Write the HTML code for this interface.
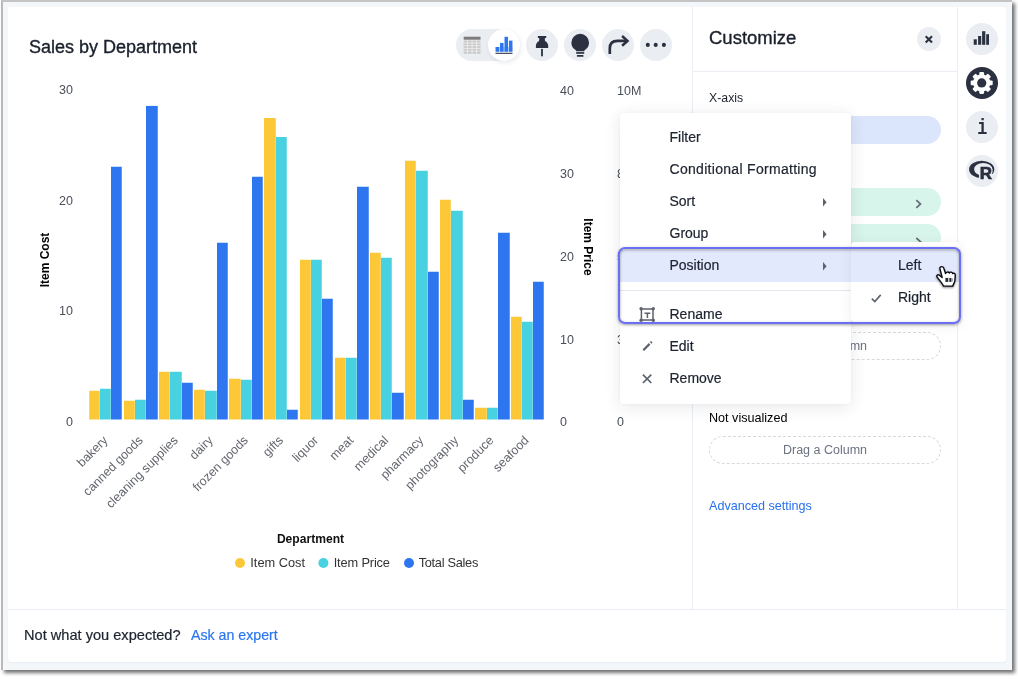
<!DOCTYPE html>
<html lang="en">
<head>
<meta charset="utf-8">
<title>Sales by Department</title>
<style>
*{box-sizing:border-box;margin:0;padding:0}
html,body{width:1018px;height:679px;overflow:hidden;background:#fff}
body{font-family:"Liberation Sans",Arial,sans-serif;color:#1d232f;position:relative}
#root{position:absolute;left:0;top:0;width:1018px;height:679px;will-change:transform}
.abs{position:absolute}
.t{position:absolute;white-space:nowrap;line-height:1}
#card{left:1px;top:0;width:1011px;height:670px;background:#f4f7fa;border-left:2px solid #b9b9b9;border-top:2px solid #c4c4c4;box-shadow:3px 3px 3.500px 0 rgba(0,0,0,.55)}
#main{left:8px;top:7px;width:998px;height:602px;background:#fff;border-radius:2px 2px 0 0}
#foot{left:8px;top:610px;width:998px;height:52px;background:#fff;border-radius:0 0 3px 3px;box-shadow:0 1px 2px rgba(60,80,120,.07)}
.vline{background:#ebeef5;width:1px}
.hline{background:#ebeef5;height:1px}
.circ{position:absolute;border-radius:50%;background:#eaedf2}
.pill{position:absolute;border-radius:14px;height:28px}
.dash{position:absolute;border:1px dashed #d6d9df;border-radius:14px;height:28px;color:#6b7280;font-size:12.500px;text-align:center;line-height:26px}
.mi{position:absolute;left:669.500px;font-size:14px;line-height:1;white-space:nowrap;color:#1d232f;-webkit-text-stroke:.2px #1d232f}
</style>
</head>
<body>
<div id="root">
<div id="card" class="abs"></div>
<div id="main" class="abs"></div>
<div id="foot" class="abs"></div>

<!-- title -->
<div class="t" id="title" style="left:29px;top:38px;font-size:18px;color:#1a202c;-webkit-text-stroke:.35px #1a202c;">Sales by Department</div>

<!-- footer -->
<div class="t" id="nwye" style="left:24px;top:628px;font-size:14.600px;-webkit-text-stroke:.2px #1d232f;">Not what you expected?</div>
<div class="t" id="ask" style="left:191px;top:628px;font-size:14.200px;color:#2a76f0;-webkit-text-stroke:.2px #2a76f0">Ask an expert</div>

<!-- dividers -->
<div class="abs vline" style="left:692px;top:7px;height:602px"></div>
<div class="abs vline" style="left:957px;top:7px;height:602px"></div>
<div class="abs hline" style="left:693px;top:71px;width:264px"></div>
<div class="abs hline" style="left:8px;top:609px;width:998px"></div>

<!-- CHART -->
<svg id="chart" class="abs" style="left:0;top:0" width="692" height="609" viewBox="0 0 692 609" font-family="Liberation Sans, Arial, sans-serif">
<g id="bars">
<rect x="89.25" y="390.75" width="10.50" height="28.75" fill="#fcc838"/>
<rect x="100.00" y="388.75" width="10.75" height="30.75" fill="#48d1e0"/>
<rect x="111.00" y="166.75" width="10.75" height="252.75" fill="#2e75f0"/>
<rect x="124.00" y="400.75" width="10.75" height="18.75" fill="#fcc838"/>
<rect x="135.00" y="399.75" width="10.75" height="19.75" fill="#48d1e0"/>
<rect x="146.00" y="105.90" width="11.75" height="313.60" fill="#2e75f0"/>
<rect x="159.00" y="371.75" width="10.75" height="47.75" fill="#fcc838"/>
<rect x="170.00" y="371.75" width="11.75" height="47.75" fill="#48d1e0"/>
<rect x="182.00" y="382.75" width="10.75" height="36.75" fill="#2e75f0"/>
<rect x="194.00" y="389.75" width="10.75" height="29.75" fill="#fcc838"/>
<rect x="205.00" y="390.75" width="11.75" height="28.75" fill="#48d1e0"/>
<rect x="217.00" y="242.75" width="10.75" height="176.75" fill="#2e75f0"/>
<rect x="229.00" y="378.75" width="11.75" height="40.75" fill="#fcc838"/>
<rect x="241.00" y="379.75" width="10.75" height="39.75" fill="#48d1e0"/>
<rect x="252.00" y="176.75" width="10.75" height="242.75" fill="#2e75f0"/>
<rect x="264.00" y="118.00" width="11.75" height="301.50" fill="#fcc838"/>
<rect x="276.00" y="137.00" width="10.75" height="282.50" fill="#48d1e0"/>
<rect x="287.00" y="409.75" width="10.75" height="9.75" fill="#2e75f0"/>
<rect x="300.00" y="259.75" width="10.75" height="159.75" fill="#fcc838"/>
<rect x="311.00" y="259.75" width="10.75" height="159.75" fill="#48d1e0"/>
<rect x="322.00" y="298.75" width="10.75" height="120.75" fill="#2e75f0"/>
<rect x="335.00" y="357.75" width="10.75" height="61.75" fill="#fcc838"/>
<rect x="346.00" y="357.75" width="10.75" height="61.75" fill="#48d1e0"/>
<rect x="357.00" y="186.75" width="11.75" height="232.75" fill="#2e75f0"/>
<rect x="370.00" y="252.75" width="10.75" height="166.75" fill="#fcc838"/>
<rect x="381.00" y="257.75" width="10.75" height="161.75" fill="#48d1e0"/>
<rect x="392.00" y="392.75" width="11.75" height="26.75" fill="#2e75f0"/>
<rect x="405.00" y="160.75" width="10.75" height="258.75" fill="#fcc838"/>
<rect x="416.00" y="170.75" width="11.75" height="248.75" fill="#48d1e0"/>
<rect x="428.00" y="271.75" width="10.75" height="147.75" fill="#2e75f0"/>
<rect x="440.00" y="199.75" width="10.75" height="219.75" fill="#fcc838"/>
<rect x="451.00" y="210.75" width="11.75" height="208.75" fill="#48d1e0"/>
<rect x="463.00" y="399.75" width="10.75" height="19.75" fill="#2e75f0"/>
<rect x="475.00" y="407.75" width="11.75" height="11.75" fill="#fcc838"/>
<rect x="487.00" y="407.75" width="10.75" height="11.75" fill="#48d1e0"/>
<rect x="498.00" y="232.75" width="11.75" height="186.75" fill="#2e75f0"/>
<rect x="511.00" y="316.75" width="10.75" height="102.75" fill="#fcc838"/>
<rect x="522.00" y="321.75" width="10.75" height="97.75" fill="#48d1e0"/>
<rect x="533.00" y="281.75" width="10.75" height="137.75" fill="#2e75f0"/>
<text transform="translate(108.5,441) rotate(-45)" text-anchor="end" font-size="12.500" fill="#63666d">bakery</text>
<text transform="translate(143.6,441) rotate(-45)" text-anchor="end" font-size="12.500" fill="#63666d">canned goods</text>
<text transform="translate(178.7,441) rotate(-45)" text-anchor="end" font-size="12.500" fill="#63666d">cleaning supplies</text>
<text transform="translate(213.7,441) rotate(-45)" text-anchor="end" font-size="12.500" fill="#63666d">dairy</text>
<text transform="translate(248.8,441) rotate(-45)" text-anchor="end" font-size="12.500" fill="#63666d">frozen goods</text>
<text transform="translate(283.9,441) rotate(-45)" text-anchor="end" font-size="12.500" fill="#63666d">gifts</text>
<text transform="translate(319.0,441) rotate(-45)" text-anchor="end" font-size="12.500" fill="#63666d">liquor</text>
<text transform="translate(354.1,441) rotate(-45)" text-anchor="end" font-size="12.500" fill="#63666d">meat</text>
<text transform="translate(389.1,441) rotate(-45)" text-anchor="end" font-size="12.500" fill="#63666d">medical</text>
<text transform="translate(424.2,441) rotate(-45)" text-anchor="end" font-size="12.500" fill="#63666d">pharmacy</text>
<text transform="translate(459.3,441) rotate(-45)" text-anchor="end" font-size="12.500" fill="#63666d">photography</text>
<text transform="translate(494.4,441) rotate(-45)" text-anchor="end" font-size="12.500" fill="#63666d">produce</text>
<text transform="translate(529.5,441) rotate(-45)" text-anchor="end" font-size="12.500" fill="#63666d">seafood</text>
</g>
<!-- left axis -->
<g font-size="12.5" fill="#4a4f59">
<text x="73" y="93.900" text-anchor="end">30</text>
<text x="73" y="205" text-anchor="end">20</text>
<text x="73" y="314.700" text-anchor="end">10</text>
<text x="73" y="426" text-anchor="end">0</text>
<text x="560" y="94.500">40</text>
<text x="560" y="177.5">30</text>
<text x="560" y="260.5">20</text>
<text x="560" y="343.5">10</text>
<text x="560" y="426">0</text>
<text x="617" y="94.500">10M</text>
<text x="617" y="177.5">8M</text>
<text x="617" y="260.500">5M</text>
<text x="617" y="343.500">3M</text>
<text x="617" y="426">0</text>
</g>
<text transform="translate(49,260) rotate(-90)" text-anchor="middle" font-size="12" font-weight="700" fill="#000">Item Cost</text>
<text transform="translate(584,247) rotate(90)" text-anchor="middle" font-size="12" font-weight="700" fill="#000">Item Price</text>
<text x="310.500" y="542.500" text-anchor="middle" font-size="12.100" font-weight="700" fill="#111">Department</text>
<circle cx="240" cy="563" r="5" fill="#fcc838"/>
<text x="250.300" y="566.700" font-size="12.800" fill="#333">Item Cost</text>
<circle cx="323.400" cy="563" r="5" fill="#48d1e0"/>
<text x="333.700" y="566.700" font-size="12.800" letter-spacing="-.15" fill="#333">Item Price</text>
<circle cx="409" cy="563" r="5" fill="#2e75f0"/>
<text x="418.700" y="566.700" font-size="12.800" letter-spacing="-.3" fill="#333">Total Sales</text>

</svg>


<!-- TOOLBAR -->
<div class="abs" id="togglepill" style="left:456px;top:29px;width:64px;height:32px;border-radius:16px;background:#eaedf2"></div>
<div class="abs" id="togglesel" style="left:488px;top:29px;width:32px;height:32px;border-radius:50%;background:#fff;box-shadow:1px 2px 4px rgba(40,60,100,.10)"></div>
<div class="circ" style="left:526px;top:29px;width:32px;height:32px"></div>
<div class="circ" style="left:564px;top:29px;width:32px;height:32px"></div>
<div class="circ" style="left:602px;top:29px;width:32px;height:32px"></div>
<div class="circ" style="left:640px;top:29px;width:32px;height:32px"></div>
<svg id="tbicons" class="abs" style="left:440px;top:15px" width="250" height="60" viewBox="440 15 250 60">
<!-- table icon -->
<rect x="463.700" y="36.700" width="16.800" height="3" fill="#7d7d7d"/>
<g fill="#bdbdbd">
<rect x="463.700" y="40.600" width="16.800" height="13.200" fill="#c9c9c9"/>
</g>
<g stroke="#f1f1f1" stroke-width="0.800">
<path d="M463.700 43h16.800M463.700 45.700h16.800M463.700 48.400h16.800M463.700 51.100h16.800M467.600 40.600v13.200M472.100 40.600v13.200M476.600 40.600v13.200"/>
</g>
<!-- chart icon -->
<g fill="#2e75f0">
<rect x="495.600" y="47" width="3.500" height="4.700"/>
<rect x="500.050" y="42.900" width="3.500" height="8.800"/>
<rect x="504.500" y="36.800" width="3.500" height="14.900"/>
<rect x="508.950" y="40.600" width="3.500" height="11.100"/>
</g>
<rect x="495.600" y="47" width="16.850" height="4.700" fill="#2e75f0" opacity=".35"/>
<rect x="495.500" y="52.700" width="17" height="1.300" fill="#4a5468"/>
<!-- pin -->
<g fill="#2b3140">
<path d="M537.900 35.900h8.300v2h-1.200c-.3 1.300-.2 2.500.4 3.400c1.700.9 2.800 2.600 2.800 4.700v1.900h-12.300v-1.900c0-2.100 1.100-3.800 2.800-4.700c.6-.9.700-2.100.4-3.400h-1.200z"/>
<rect x="541.100" y="48.900" width="1.800" height="7.400"/>
</g>
<!-- bulb -->
<path d="M580.200 33.800a8.850 8.850 0 0 1 8.850 8.850c0 3-1.500 5.200-3.300 6.600c-.9.700-1.500 1.200-1.600 1.900h-7.900c-.1-.7-.7-1.200-1.600-1.900c-1.800-1.400-3.300-3.600-3.300-6.600a8.850 8.850 0 0 1 8.850-8.850z" fill="#2b3140"/>
<rect x="576.200" y="52.100" width="8" height="1.700" fill="#2b3140"/>
<rect x="576.900" y="55" width="6.600" height="1.800" rx=".6" fill="#2b3140"/>
<!-- share -->
<path d="M609.800 54v-5.500q0-7.600 7.600-7.600h8.600" fill="none" stroke="#2b3140" stroke-width="2.700" stroke-linecap="butt"/>
<path d="M622.100 36l5.400 4.900l-5.400 4.900" fill="none" stroke="#2b3140" stroke-width="2.500" stroke-linecap="butt" stroke-linejoin="miter"/>
<!-- more -->
<g fill="#2b3140"><circle cx="647.800" cy="44.900" r="2.050"/><circle cx="655.700" cy="44.900" r="2.050"/><circle cx="663.900" cy="44.900" r="2.050"/></g>
</svg>

<!-- RIGHT PANEL -->
<div class="t" id="cust" style="left:709px;top:29px;font-size:18.500px;color:#1a202c;-webkit-text-stroke:.35px #1a202c;">Customize</div>
<div class="circ" style="left:917px;top:27px;width:24px;height:24px"></div>
<svg class="abs" style="left:917px;top:27px" width="24" height="24" viewBox="0 0 24 24"><path d="M8.700 9.250l6.300 6.300M15 9.250l-6.300 6.300" stroke="#2b3140" stroke-width="2.100" fill="none"/></svg>
<div class="t" id="xaxis" style="left:709px;top:92px;font-size:12.300px;">X-axis</div>
<div class="pill" style="left:709px;top:116px;width:232px;background:#dbe5fb"></div>
<div class="pill" style="left:709px;top:188px;width:232px;background:#d7f5ea"></div>
<div class="pill" style="left:709px;top:224px;width:232px;background:#d7f5ea"></div>
<svg class="abs" style="left:912px;top:196px" width="12" height="50" viewBox="0 0 12 50"><path d="M4.300 4.200l4.200 3.800l-4.200 3.800M4.300 42l4.200 3.800l-4.200 3.800" stroke="#666b77" stroke-width="1.700" fill="none"/></svg>
<div class="dash" style="left:709px;top:332px;width:232px">Drag a Column</div>
<div class="t" id="notvis" style="left:709px;top:411.700px;font-size:12.600px;color:#000">Not visualized</div>
<div class="dash" style="left:709px;top:436px;width:232px">Drag a Column</div>
<div class="t" id="adv" style="left:709px;top:499.700px;font-size:12.600px;color:#2770ef">Advanced settings</div>

<!-- side icons -->
<div class="circ" style="left:965.500px;top:22.500px;width:32px;height:32px"></div>
<div class="circ" style="left:965.500px;top:67px;width:32px;height:32px;background:#2b3140"></div>
<div class="circ" style="left:965.500px;top:111px;width:32px;height:32px"></div>
<div class="circ" style="left:965.500px;top:155px;width:32px;height:32px"></div>
<svg id="sideicons" class="abs" style="left:960px;top:15px" width="46" height="180" viewBox="960 15 46 180">
<g fill="#2b3140">
<rect x="973.700" y="39.300" width="3.100" height="5.500"/>
<rect x="978.100" y="36" width="3.100" height="8.800"/>
<rect x="982.100" y="31.200" width="3.200" height="13.600"/>
<rect x="986.200" y="34.200" width="2.800" height="10.600"/>
</g>
<!-- gear -->
<g transform="translate(981.700,82.900)">
<g fill="#fff">
<circle r="8.600"/>
<rect x="-2.400" y="-11" width="4.800" height="5" rx="1.100" transform="rotate(0)"/><rect x="-2.400" y="-11" width="4.800" height="5" rx="1.100" transform="rotate(45)"/><rect x="-2.400" y="-11" width="4.800" height="5" rx="1.100" transform="rotate(90)"/><rect x="-2.400" y="-11" width="4.800" height="5" rx="1.100" transform="rotate(135)"/><rect x="-2.400" y="-11" width="4.800" height="5" rx="1.100" transform="rotate(180)"/><rect x="-2.400" y="-11" width="4.800" height="5" rx="1.100" transform="rotate(225)"/><rect x="-2.400" y="-11" width="4.800" height="5" rx="1.100" transform="rotate(270)"/><rect x="-2.400" y="-11" width="4.800" height="5" rx="1.100" transform="rotate(315)"/>
</g>
<circle r="4.600" fill="#2b3140"/>
</g>
<!-- info -->
<text transform="translate(982.300,133.900) scale(.8,1.060)" text-anchor="middle" font-family="Liberation Mono, monospace" font-weight="700" font-size="21" fill="#2b3140">i</text>
<!-- R -->
<path fill-rule="evenodd" fill="#2b3140" d="M969.10 169.40a12.6 8.55 0 1 0 25.20 0a12.6 8.55 0 1 0 -25.20 0zM974.10 169.30a9.1 6.3 0 1 0 18.20 0a9.1 6.3 0 1 0 -18.20 0z"/>
<rect x="979.200" y="174" width="14.500" height="6" fill="#eaedf2"/>
<text x="985.900" y="179.400" text-anchor="middle" font-size="17" font-weight="700" fill="#eaedf2" stroke="#eaedf2" stroke-width="3" stroke-linejoin="round">R</text>
<text x="985.900" y="179.400" text-anchor="middle" font-size="17" font-weight="700" fill="#2b3140" stroke="#2b3140" stroke-width=".700">R</text>
</svg>


<!-- MENU -->
<div class="abs" id="menu" style="left:620px;top:112.500px;width:231px;height:291.500px;background:#fff;border-radius:4px;box-shadow:0 3px 16px 1px rgba(20,30,50,.09),0 0 3px rgba(20,30,50,.05)"></div>
<div class="abs" id="posrow" style="left:620px;top:250px;width:231px;height:32px;background:#e2e9fc"></div>
<div class="abs hline" style="left:620px;top:290px;width:231px;background:#e3e6ec"></div>
<div class="mi" style="top:130px">Filter</div>
<div class="mi" style="top:162px;letter-spacing:.3px">Conditional Formatting</div>
<div class="mi" style="top:194px">Sort</div>
<div class="mi" style="top:226px">Group</div>
<div class="mi" style="top:258px">Position</div>
<div class="mi" style="top:307px">Rename</div>
<div class="mi" style="top:339px">Edit</div>
<div class="mi" style="top:371px">Remove</div>
<svg id="menuicons" class="abs" style="left:620px;top:113px" width="231" height="291" viewBox="620 113 231 291">
<g fill="#5d626d">
<path d="M823 198l3.600 4.200l-3.600 4.200z"/>
<path d="M823 230l3.600 4.200l-3.600 4.200z"/>
<path d="M823 262l3.600 4.200l-3.600 4.200z"/>
</g>
<!-- rename icon -->
<g fill="none" stroke="#5d626d" stroke-width="1.500">
<rect x="641.400" y="309" width="11.600" height="11"/>
<path d="M644.500 313.300h5.800M647.400 313.300v4.700"/>
</g>
<g fill="#5d626d">
<circle cx="641.100" cy="308.700" r="1.700"/><circle cx="653.300" cy="308.700" r="1.700"/>
<circle cx="641.100" cy="320.200" r="1.700"/><circle cx="653.300" cy="320.200" r="1.700"/>
</g>
<!-- pencil -->
<path d="M643.300 350.200l6.300-6.300" stroke="#5d626d" stroke-width="2.200" fill="none"/>
<path d="M650.600 342.900l1.200-1.200" stroke="#5d626d" stroke-width="2.200" fill="none"/>
<!-- x -->
<path d="M642.900 374.600l8.400 8.400M651.300 374.600l-8.400 8.400" stroke="#5d626d" stroke-width="1.700" fill="none"/>
</svg>

<!-- SUBMENU -->
<div class="abs" id="submenu" style="left:850.500px;top:241.500px;width:109px;height:80px;background:#fff;border-radius:4px;box-shadow:0 3px 14px 1px rgba(20,30,50,.06),0 0 2px rgba(20,30,50,.04)"></div>
<div class="abs" id="leftrow" style="left:850.500px;top:249.500px;width:109px;height:32.500px;background:#e2e9fc"></div>
<div class="mi" style="left:898px;top:258px">Left</div>
<div class="mi" style="left:898px;top:290px">Right</div>
<svg class="abs" style="left:868px;top:290px" width="18" height="16" viewBox="868 290 18 16"><path d="M871.800 298.600l3 2.900l5.900-6.600" fill="none" stroke="#5d626d" stroke-width="1.600"/></svg>

<!-- HIGHLIGHT BOX -->
<div class="abs" id="hl" style="left:618.100px;top:247.100px;width:343.100px;height:76.900px;border:2.300px solid #6b6ff4;border-radius:7px;box-shadow:0 1px 3px 0 rgba(0,0,0,.38),inset 0 1px 3px 0 rgba(0,0,0,.38)"></div>

<!-- CURSOR -->
<svg id="cursor" class="abs" style="left:926px;top:256px;filter:drop-shadow(0 1px 1.200px rgba(0,0,0,.45))" width="40" height="40" viewBox="0 0 679 679">
<path d="M268 180C290 180 302 196 306 216L332 298C345 268 385 264 395 290C410 266 445 268 452 298C470 284 500 296 497 332L490 420C488 450 465 470 455 510L298 512C280 470 232 412 192 362C170 336 196 308 226 326L275 366L236 216C232 196 248 180 268 180Z" fill="#fff" stroke="#0a0a12" stroke-width="24" stroke-linejoin="round"/>
<g fill="#262838"><rect x="330" y="372" width="48" height="68"/><rect x="396" y="372" width="36" height="68"/><rect x="446" y="380" width="12" height="52" opacity=".6"/></g>
</svg>

</div>
</body>
</html>
